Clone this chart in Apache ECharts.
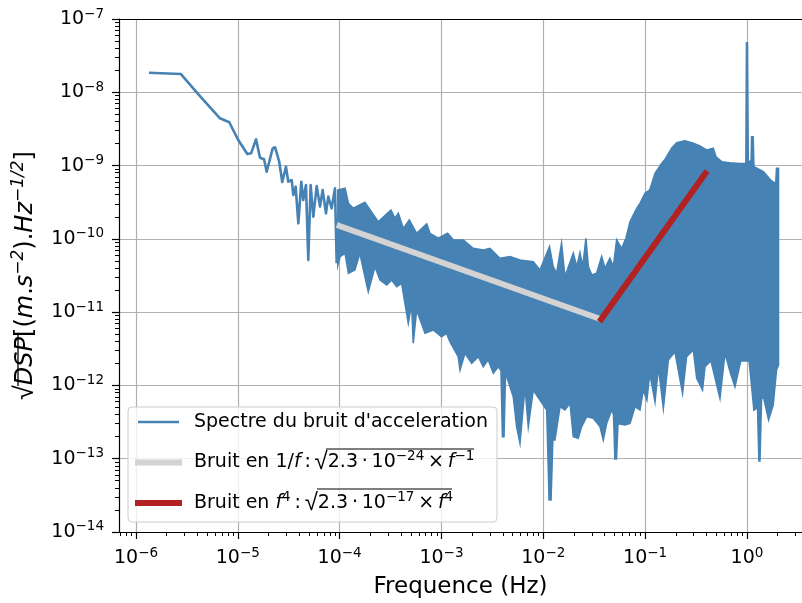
<!DOCTYPE html>
<html>
<head>
<meta charset="utf-8">
<script src="https://cdn.jsdelivr.net/npm/echarts@6/dist/echarts.min.js"></script>
<style>
html, body { margin: 0; padding: 0; background: #fff; }
#chart { width: 802px; height: 603px; }
</style>
</head>
<body>
<div id="chart"></div>
<script>
// basse frequence : ligne simple
var lfFreq = [1.34e-6, 2.75e-6, 3.65e-6, 4.25e-6, 6.68e-6, 8.24e-6, 1.01e-5, 1.24e-5, 1.35e-5, 1.51e-5,
    1.65e-5, 1.81e-5, 1.92e-5, 2.20e-5, 2.32e-5, 2.55e-5, 2.73e-5, 2.97e-5, 3.13e-5, 3.38e-5,
    3.51e-5, 3.70e-5, 3.93e-5, 4.20e-5, 4.39e-5, 4.67e-5, 4.92e-5, 5.19e-5, 5.51e-5, 5.95e-5,
    6.41e-5, 6.81e-5, 7.34e-5, 7.73e-5, 8.35e-5, 9.0e-5, 9.35e-5];
var lfVal = [1.85e-8, 1.78e-8, 1.13e-8, 8.9e-9, 4.42e-9, 3.9e-9, 2.23e-9, 1.44e-9, 1.47e-9, 2.29e-9,
    1.28e-9, 1.22e-9, 8.25e-10, 1.72e-9, 1.78e-9, 1.13e-9, 5.97e-10, 9.66e-10, 6.03e-10, 6.35e-10,
    3.97e-10, 5.15e-10, 1.63e-10, 6.03e-10, 3.39e-10, 5.43e-10, 5.15e-11, 5.43e-10, 2.01e-10, 5.26e-10,
    2.75e-10, 4.65e-10, 2.23e-10, 3.77e-10, 2.61e-10, 4.9e-10, 4.65e-11];

// partie dense : enveloppe haute
var hiFreq = [9.6e-5, 1.13e-4, 1.22e-4, 1.36e-4, 1.77e-4, 1.99e-4, 2.39e-4, 3.19e-4, 3.49e-4, 3.77e-4,
    4.22e-4, 4.83e-4, 5.70e-4, 7.16e-4, 7.71e-4, 9.29e-4, 1.15e-3, 1.31e-3, 1.64e-3, 2.05e-3,
    2.57e-3, 2.99e-3, 3.75e-3, 4.71e-3, 5.90e-3, 7.97e-3, 9.27e-3, 1.15e-2, 1.25e-2, 1.35e-2,
    1.51e-2, 1.63e-2, 1.97e-2, 2.13e-2, 2.29e-2, 2.44e-2, 2.62e-2, 2.77e-2, 2.99e-2, 3.34e-2,
    3.74e-2, 4.03e-2, 4.51e-2, 4.87e-2, 5.25e-2, 5.88e-2, 6.48e-2, 7.10e-2, 8.26e-2, 8.90e-2,
    9.96e-2, 0.111, 0.125, 0.145, 0.157, 0.182, 0.204, 0.246, 0.297, 0.345,
    0.402, 0.467, 0.496, 0.565, 0.681, 0.854, 0.975, 0.989, 1.01, 1.03,
    1.10, 1.11, 1.15, 1.17, 1.45, 1.68, 1.86, 1.92, 1.95, 2.04];
var hiVal = [4.64e-10, 4.9e-10, 3.05e-10, 2.61e-10, 3.15e-10, 2.48e-10, 1.71e-10, 2.48e-10, 1.91e-10, 2.23e-10,
    1.39e-10, 1.81e-10, 1.19e-10, 1.60e-10, 1.19e-10, 1.02e-10, 1.19e-10, 9.66e-11, 9.66e-11, 7.43e-11,
    7.05e-11, 7.43e-11, 5.43e-11, 5.71e-11, 5.15e-11, 4.88e-11, 3.76e-11, 7.82e-11, 4.17e-11, 3.39e-11,
    8.71e-11, 3.05e-11, 6.35e-11, 4.17e-11, 6.47e-11, 4.17e-11, 1.02e-10, 4.17e-11, 3.21e-11, 3.39e-11,
    5.71e-11, 3.96e-11, 5.43e-11, 4.17e-11, 9.66e-11, 7.43e-11, 1.02e-10, 1.71e-10, 2.61e-10, 3.05e-10,
    4.19e-10, 4.64e-10, 7.85e-10, 1.07e-9, 1.22e-9, 1.72e-9, 2.05e-9, 2.18e-9, 2.01e-9, 1.85e-9,
    1.63e-9, 1.72e-9, 1.32e-9, 1.13e-9, 1.09e-9, 1.07e-9, 1.07e-9, 4.75e-8, 4.75e-8, 1.07e-9,
    1.2e-9, 2.48e-9, 2.48e-9, 9.66e-10, 8.26e-10, 6.50e-10, 5.78e-10, 6.0e-10, 9.18e-10, 9.18e-10];

// partie dense : enveloppe basse
var loFreq = [9.6e-5, 1.01e-4, 1.13e-4, 1.22e-4, 1.41e-4, 1.58e-4, 1.77e-4, 1.91e-4, 2.22e-4, 2.49e-4,
    2.90e-4, 3.24e-4, 3.63e-4, 4.06e-4, 4.72e-4, 5.09e-4, 5.28e-4, 5.70e-4, 6.89e-4, 8.30e-4,
    1.00e-3, 1.12e-3, 1.21e-3, 1.46e-3, 1.52e-3, 1.70e-3, 1.98e-3, 2.30e-3, 2.57e-3, 2.88e-3,
    3.23e-3, 3.61e-3, 3.84e-3, 3.97e-3, 4.11e-3, 4.25e-3, 4.37e-3, 5.07e-3, 5.47e-3, 5.90e-3,
    6.61e-3, 7.12e-3, 7.97e-3, 9.27e-3, 1.08e-2, 1.14e-2, 1.19e-2, 1.24e-2, 1.30e-2, 1.46e-2,
    1.63e-2, 1.83e-2, 1.97e-2, 2.20e-2, 2.38e-2, 2.67e-2, 3.10e-2, 3.60e-2, 3.88e-2, 4.19e-2,
    4.69e-2, 4.89e-2, 5.05e-2, 5.23e-2, 5.41e-2, 6.34e-2, 7.10e-2, 7.94e-2, 8.90e-2, 9.59e-2,
    0.104, 0.111, 0.125, 0.135, 0.151, 0.169, 0.196, 0.233, 0.255, 0.297,
    0.321, 0.366, 0.387, 0.443, 0.543, 0.608, 0.693, 0.762, 0.869, 1.05,
    1.17, 1.27, 1.31, 1.34, 1.39, 1.45, 1.63, 1.81, 1.95, 2.04];
var loVal = [4.40e-11, 5.71e-11, 6.35e-11, 3.39e-11, 3.76e-11, 6.35e-11, 3.05e-11, 1.90e-11, 4.17e-11, 2.75e-11,
    2.35e-11, 2.75e-11, 2.23e-11, 2.48e-11, 7.05e-12, 1.32e-11, 3.76e-12, 1.07e-11, 5.15e-12, 5.71e-12,
    4.62e-12, 5.15e-12, 3.95e-12, 2.47e-12, 1.63e-12, 2.75e-12, 2.01e-12, 2.47e-12, 1.80e-12, 2.23e-12,
    1.47e-12, 1.80e-12, 1.6e-12, 2.0e-13, 2.0e-13, 1.4e-12, 1.32e-12, 7.02e-13, 2.74e-13, 1.63e-13,
    9.62e-13, 2.74e-13, 8.67e-13, 6.33e-13, 4.62e-13, 2.73e-14, 2.73e-14, 1.8e-13, 1.80e-13, 5.13e-13,
    4.62e-13, 5.71e-13, 2.0e-13, 1.90e-13, 2.74e-13, 3.75e-13, 3.56e-13, 2.74e-13, 1.80e-13, 3.04e-13,
    4.62e-13, 4.0e-13, 9.9e-14, 9.9e-14, 3.0e-13, 2.88e-13, 3.04e-13, 5.13e-13, 4.62e-13, 8.67e-13,
    6.33e-13, 1.47e-12, 6.0e-13, 1.80e-12, 4.88e-13, 2.23e-12, 2.89e-12, 7.82e-13, 2.47e-12, 3.05e-12,
    1.25e-12, 8.67e-13, 1.80e-12, 2.17e-12, 6.68e-13, 2.75e-12, 1.43e-12, 9.62e-13, 2.16e-12, 2.16e-12,
    4.62e-13, 5.0e-13, 9.3e-14, 9.3e-14, 6.5e-13, 7.02e-13, 3.38e-13, 5.41e-13, 1.63e-12, 1.90e-12];

// droites de bruit
var invFreq = [1.0e-4, 0.0351];
var invVal = [1.5e-10, 8.2e-12];
var f4Freq = [0.037, 0.39];
var f4Val = [8.0e-12, 7.8e-10];

// graduations
var xMajor = [1e-6, 1e-5, 1e-4, 1e-3, 1e-2, 1e-1, 1];
var yMajor = [1e-14, 1e-13, 1e-12, 1e-11, 1e-10, 1e-9, 1e-8, 1e-7];

var names = ["Spectre du bruit d'acceleration", 'Bruit en 1/f', 'Bruit en f4'];

function zip(a, b) {
    var out = [];
    for (var i = 0; i < a.length; i++) out.push([a[i], b[i]]);
    return out;
}

function minorTicks(lo, hi) {
    var out = [];
    for (var e = -15; e <= 1; e++) {
        for (var k = 2; k <= 9; k++) {
            var v = k * Math.pow(10, e);
            if (v > lo && v < hi) out.push(v);
        }
    }
    return out;
}

function expLabel(v) {
    var e = Math.round(Math.log(v) / Math.LN10);
    return '10{s|' + (e < 0 ? '\u2212' + (-e) : e) + '}';
}

var xMin = 6.81e-7, xMax = 3.47, yMin = 0.999e-14, yMax = 1.001e-7;
var blue = '#4682b4', grey = '#d3d3d3', red = '#b22222', black = '#000';
var font = 'DejaVu Sans';

var tickLabel = {
    fontSize: 19, fontFamily: font, color: black, lineHeight: 24,
    formatter: expLabel,
    rich: { s: { fontSize: 13.5, fontFamily: font, lineHeight: 12, verticalAlign: 'top', color: black } }
};

var chart = echarts.init(document.getElementById('chart'));

// enveloppe : haut puis bas a l'envers
var envelope = zip(hiFreq, hiVal).concat(zip(loFreq, loVal).reverse());

function legendItem(name, color, width) {
    return {
        name: name,
        lineStyle: { color: color, width: width },
        itemStyle: { color: 'transparent', borderWidth: 0, opacity: 0 }
    };
}

var option = {
    animation: false,
    grid: { left: 119, right: 0, top: 19, bottom: 71, outerBoundsMode: 'none', containLabel: false },
    xAxis: [{
        type: 'log', min: xMin, max: xMax, position: 'bottom',
        name: 'Frequence (Hz)', nameLocation: 'middle', nameGap: 44,
        nameTextStyle: { fontSize: 23, fontFamily: font, color: black, lineHeight: 23 },
        axisLine: { onZero: false, lineStyle: { color: black, width: 1.2 } },
        axisTick: { customValues: xMajor, length: 7, lineStyle: { color: black, width: 1.2 } },
        axisLabel: Object.assign({ customValues: xMajor, margin: 14 }, tickLabel),
        splitLine: { show: true, lineStyle: { color: '#b0b0b0', width: 1.2 } }
    }, {
        type: 'log', min: xMin, max: xMax, position: 'bottom',
        axisLine: { show: false },
        axisTick: { customValues: minorTicks(xMin, xMax), length: 4, lineStyle: { color: black, width: 1 } },
        axisLabel: { show: false },
        splitLine: { show: false }
    }, {
        type: 'log', min: xMin, max: xMax, position: 'top',
        axisLine: { onZero: false, lineStyle: { color: black, width: 1.2 } },
        axisTick: { show: false },
        axisLabel: { show: false },
        splitLine: { show: false }
    }],
    yAxis: [{
        type: 'log', min: yMin, max: yMax, position: 'left',
        name: '{r|\u221A}{i|DSP}[({i|m}.{i|s}{s|\u22122}).{i|Hz}{s|\u22121/2}]',
        nameLocation: 'middle', nameRotate: 90, nameGap: 72,
        nameTextStyle: {
            fontSize: 24, fontFamily: font, color: black, lineHeight: 30,
            rich: {
                r: { fontSize: 27, fontFamily: 'Liberation Sans', color: black, lineHeight: 30 },
                i: { fontSize: 24, fontFamily: font, fontStyle: 'italic', color: black, lineHeight: 30 },
                s: { fontSize: 17, fontFamily: font, fontStyle: 'italic', color: black, lineHeight: 16, verticalAlign: 'top' }
            }
        },
        axisLine: { onZero: false, lineStyle: { color: black, width: 1.2 } },
        axisTick: { customValues: yMajor, length: 7, lineStyle: { color: black, width: 1.2 } },
        axisLabel: Object.assign({ customValues: yMajor, margin: 15 }, tickLabel),
        splitLine: { show: true, lineStyle: { color: '#b0b0b0', width: 1.2 } }
    }, {
        type: 'log', min: yMin, max: yMax, position: 'left',
        axisLine: { show: false },
        axisTick: { customValues: minorTicks(yMin, yMax), length: 4, lineStyle: { color: black, width: 1 } },
        axisLabel: { show: false },
        splitLine: { show: false }
    }],
    legend: {
        orient: 'vertical', left: 128, top: 407,
        data: [legendItem(names[0], blue, 2.6), legendItem(names[1], grey, 6), legendItem(names[2], red, 6)],
        itemWidth: 41, itemHeight: 14, itemGap: 14.5,
        padding: [2, 9, 6, 7],
        backgroundColor: 'rgba(255,255,255,0.8)',
        borderColor: '#cccccc', borderWidth: 1, borderRadius: 4,
        textStyle: {
            fontSize: 19, fontFamily: font, color: black, lineHeight: 26, padding: [0, 0, 0, 10],
            rich: {
                r: { fontSize: 24, fontFamily: 'Liberation Sans', color: black, lineHeight: 26 },
                i: { fontSize: 19, fontFamily: font, fontStyle: 'italic', color: black, lineHeight: 26 },
                s: { fontSize: 13.5, fontFamily: font, color: black, lineHeight: 14, verticalAlign: 'top' }
            }
        },
        formatter: function (name) {
            if (name === names[1]) {
                return 'Bruit en 1/{i|f}\u2009:\u2009{r|\u221A}2.3\u2009\u00B7\u200910{s|\u221224}\u2009\u00D7\u2009{i|f}{s|\u22121}';
            }
            if (name === names[2]) {
                return 'Bruit en {i|f}{s|4}\u2009:\u2009{r|\u221A}2.3\u2009\u00B7\u200910{s|\u221217}\u2009\u00D7\u2009{i|f}{s|4}';
            }
            return name;
        }
    },
    // barres des racines
    graphic: [
        { type: 'line', shape: { x1: 326, y1: 449, x2: 474, y2: 449 }, style: { stroke: black, lineWidth: 1.2 }, z: 100 },
        { type: 'line', shape: { x1: 317, y1: 489, x2: 452, y2: 489 }, style: { stroke: black, lineWidth: 1.2 }, z: 100 },
        { type: 'line', shape: { x1: 18, y1: 333, x2: 18, y2: 386 }, style: { stroke: black, lineWidth: 1.3 }, z: 100 }
    ],
    series: [{
        name: names[0], type: 'line', symbol: 'none',
        lineStyle: { color: blue, width: 2.6, join: 'round' }, itemStyle: { color: blue },
        data: zip(lfFreq, lfVal)
    }, {
        name: names[0], type: 'custom',
        data: envelope,
        encode: { x: 0, y: 1 },
        renderItem: function (params, api) {
            if (params.dataIndexInside !== 0) return null;
            var pts = [];
            for (var i = 0; i < params.dataInsideLength; i++) {
                pts.push(api.coord([api.value(0, i), api.value(1, i)]));
            }
            return {
                type: 'polygon', shape: { points: pts },
                style: { fill: blue, stroke: blue, lineWidth: 1.6 }
            };
        }
    }, {
        name: names[1], type: 'line', symbol: 'none',
        lineStyle: { color: grey, width: 6, cap: 'square' }, itemStyle: { color: grey },
        data: zip(invFreq, invVal)
    }, {
        name: names[2], type: 'line', symbol: 'none',
        lineStyle: { color: red, width: 6, cap: 'square' }, itemStyle: { color: red },
        data: zip(f4Freq, f4Val)
    }]
};

chart.setOption(option);
</script>
</body>
</html>
